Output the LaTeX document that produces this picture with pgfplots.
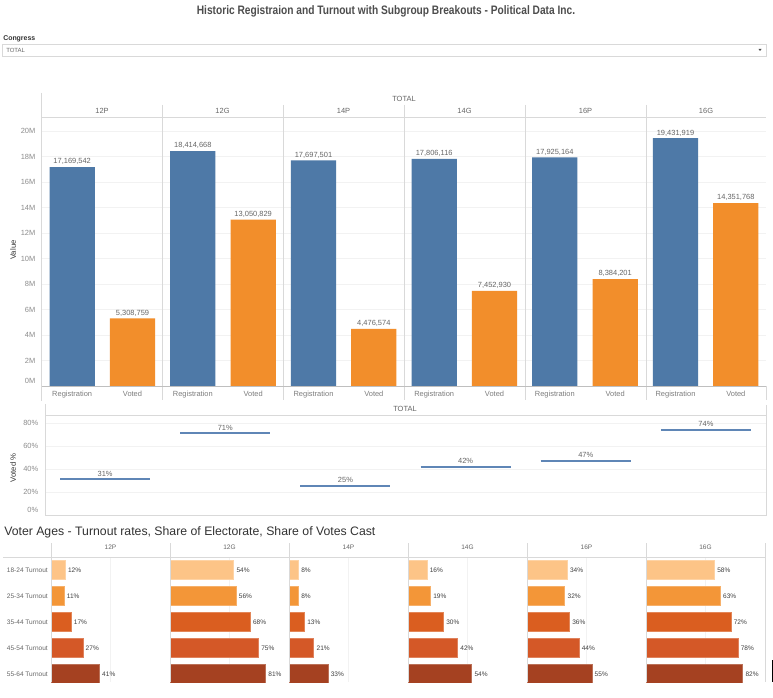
\documentclass[border=0pt]{standalone}
\usepackage{pgfplots}
\pgfplotsset{compat=1.18}
\usepackage{pgfplotstable}
\usepackage{graphicx}
\usepackage{fontspec}
\setmainfont{Liberation Sans}

\definecolor{tblue}{HTML}{4E79A7}
\definecolor{torange}{HTML}{F28E2B}
\definecolor{lineblue}{HTML}{5F86B6}
\definecolor{gridc}{HTML}{F2F2F2}
\definecolor{sepc}{HTML}{D9D9D9}
\definecolor{tickc}{HTML}{8C8C8C}
\definecolor{labc}{HTML}{666666}
\definecolor{titc}{HTML}{4D4D4D}
\definecolor{ageA}{HTML}{FDC487}
\definecolor{ageB}{HTML}{F39638}
\definecolor{ageC}{HTML}{DA5E20}
\definecolor{ageD}{HTML}{D45827}
\definecolor{ageE}{HTML}{A54121}

\newcommand{\tickfont}{\fontsize{5.6}{6.5}\selectfont}
\newcommand{\agefont}{\fontsize{4.9}{5.5}\selectfont}

\pgfplotstableread{
x y label
0.5 17169542 17,169,542
2.5 18414668 18,414,668
4.5 17697501 17,697,501
6.5 17806116 17,806,116
8.5 17925164 17,925,164
10.5 19431919 19,431,919
}\regtable

\pgfplotstableread{
x y label
1.5 5308759 5,308,759
3.5 13050829 13,050,829
5.5 4476574 4,476,574
7.5 7452930 7,452,930
9.5 8384201 8,384,201
11.5 14351768 14,351,768
}\votetable

\pgfplotstableread{
x y label
0.5 30.9 31
1.5 70.9 71
2.5 25.3 25
3.5 41.9 42
4.5 46.8 47
5.5 73.9 74
}\pcttable

\pgfplotstableread{
row pA pB pC pD pE pF
0 12 54 8 16 34 58
1 11 56 8 19 32 63
2 17 68 13 30 36 72
3 27 75 21 42 44 78
4 41 81 33 54 55 82
}\agetable

\pgfplotsset{
 agepanel/.style={scale only axis, width=89.25pt, height=93.75pt, anchor=south west,
  xmin=0, xmax=101, ymin=-0.5, ymax=4.3077, y dir=reverse,
  xbar, bar shift=0pt, bar width=0.73,
  axis line style={draw=none}, major tick length=0pt,
  ytick=\empty, xtick={50}, xticklabels={}, xmajorgrids, grid style={gridc, line width=0.6pt},
  point meta=x,
  nodes near coords={\pgfmathprintnumber[assume math mode=true,fixed,precision=0]{\pgfplotspointmeta}\%},
  every node near coord/.append style={font=\agefont, text=black!75, inner sep=2pt},
 },
 pctseg/.style={color=lineblue, line width=1.5pt, mark=none, forget plot},
}

\newcommand{\agepanel}[2]{%
\begin{axis}[agepanel, at={(#1,11.25pt)}]
\addplot[fill=ageA, draw=ageA!75!white, line width=0.4pt, restrict y to domain=-0.2:0.2] table[x=#2,y=row]{\agetable};
\addplot[fill=ageB, draw=ageB!75!white, line width=0.4pt, restrict y to domain=0.8:1.2] table[x=#2,y=row]{\agetable};
\addplot[fill=ageC, draw=ageC!75!white, line width=0.4pt, restrict y to domain=1.8:2.2] table[x=#2,y=row]{\agetable};
\addplot[fill=ageD, draw=ageD!75!white, line width=0.4pt, restrict y to domain=2.8:3.2] table[x=#2,y=row]{\agetable};
\addplot[fill=ageE, draw=ageE!75!white, line width=0.4pt, restrict y to domain=3.8:4.2] table[x=#2,y=row]{\agetable};
\end{axis}}

\begin{document}
\begin{tikzpicture}[x=0.75pt,y=0.75pt]
\path[use as bounding box] (0,0) rectangle (773,697);
\fill[white] (0,0) rectangle (773,697);

% Title
\node[font=\fontsize{9.2}{11}\selectfont\bfseries, text=titc] at (386,686) {\scalebox{0.83}[1]{Historic Registraion and Turnout with Subgroup Breakouts - Political Data Inc.}};

% Filter
\node[anchor=west, font=\fontsize{5.2}{6}\selectfont\bfseries, text=black!80, inner sep=0] at (3,658) {Congress};
\draw[sepc, fill=white, line width=0.6pt] (2,641) rectangle (766,653);
\node[anchor=west, font=\fontsize{4.5}{5}\selectfont, text=labc, inner sep=0] at (6,647) {TOTAL};
\fill[black!70] (758.5,648) -- (761.5,648) -- (760,646) -- cycle;

% ---------------- Top bar chart ----------------
\begin{axis}[
 scale only axis, width=543pt, height=201.75pt,
 at={(31.5pt,233.25pt)}, anchor=south west,
 xmin=0, xmax=12, ymin=0, ymax=21098039,
 ybar, bar shift=0pt, bar width=0.75,
 axis line style={draw=none},
 major tick length=0pt,
 scaled y ticks=false,
 ytick={2000000,4000000,6000000,8000000,10000000,12000000,14000000,16000000,18000000,20000000},
 yticklabels={2M,4M,6M,8M,10M,12M,14M,16M,18M,20M},
 extra y ticks={0}, extra y tick labels={0M},
 extra y tick style={yticklabel style={yshift=3.75pt}, ymajorgrids=false},
 ymajorgrids, grid style={gridc, line width=0.6pt},
 yticklabel style={font=\tickfont, text=tickc, xshift=-1.5pt},
 xtick={0.5,1.5,...,11.5},
 xticklabels={Registration,Voted,Registration,Voted,Registration,Voted,Registration,Voted,Registration,Voted,Registration,Voted},
 xticklabel style={font=\tickfont, text=labc!85},
 nodes near coords, point meta=explicit symbolic,
 every node near coord/.append style={font=\tickfont, text=labc, inner sep=1.5pt},
 clip=false,
]
\addplot[fill=tblue, draw=none] table[x=x,y=y,meta=label]{\regtable};
\addplot[fill=torange, draw=none] table[x=x,y=y,meta=label]{\votetable};
\end{axis}

\draw[sepc, line width=0.6pt] (41.5,604) -- (41.5,296);
\foreach \xx in {162,283,404,525,646} {\draw[sepc, line width=0.6pt] (\xx,592) -- (\xx,297);}
\draw[sepc, line width=0.6pt] (42,580) -- (766,580);
\draw[black!25, line width=0.6pt] (42,311) -- (766,311);
\draw[sepc, line width=0.6pt] (766,311) -- (766,297);
\node[font=\tickfont, text=labc] at (404,598) {TOTAL};
\foreach \xx/\nm in {102/12P,222.5/12G,343.5/14P,464.5/14G,585.5/16P,706/16G} {\node[font=\tickfont, text=labc] at (\xx,586) {\nm};}
\node[rotate=90, font=\fontsize{5.8}{6.5}\selectfont, text=black!80] at (13,447) {Value};

% ---------------- Voted % chart ----------------
\begin{axis}[
 scale only axis, width=540.75pt, height=75pt,
 at={(33.75pt,136.5pt)}, anchor=south west,
 xmin=0, xmax=6, ymin=0, ymax=86.96,
 axis line style={draw=none},
 major tick length=0pt,
 xtick=\empty,
 ytick={20,40,60,80},
 yticklabels={20\%,40\%,60\%,80\%},
 extra y ticks={0}, extra y tick labels={0\%},
 extra y tick style={yticklabel style={yshift=4pt}, ymajorgrids=false},
 ymajorgrids, grid style={gridc, line width=0.6pt},
 yticklabel style={font=\tickfont, text=tickc, xshift=-1.5pt},
 clip=false,
]
\addplot[pctseg] coordinates {(0.125,30.9) (0.875,30.9)};
\addplot[pctseg] coordinates {(1.125,70.9) (1.875,70.9)};
\addplot[pctseg] coordinates {(2.125,25.3) (2.875,25.3)};
\addplot[pctseg] coordinates {(3.125,41.9) (3.875,41.9)};
\addplot[pctseg] coordinates {(4.125,46.8) (4.875,46.8)};
\addplot[pctseg] coordinates {(5.125,73.9) (5.875,73.9)};
\addplot[draw=none, mark=none, point meta=explicit symbolic,
 nodes near coords={\pgfplotspointmeta\%},
 every node near coord/.append style={font=\tickfont, text=labc, inner sep=2.2pt}] table[x=x,y=y,meta=label]{\pcttable};
\end{axis}

\draw[sepc, line width=0.6pt] (45,293) -- (45,182) -- (766,182) -- (766,292);
\draw[sepc, line width=0.6pt] (45,282) -- (766,282);
\node[font=\tickfont, text=labc] at (405,288) {TOTAL};
\node[rotate=90, font=\fontsize{5.8}{6.5}\selectfont, text=black!80] at (13,229) {Voted \%};

% ---------------- Age panels ----------------
\node[anchor=west, font=\fontsize{9.2}{11}\selectfont, text=black!80, inner sep=0] at (4,165) {Voter Ages - Turnout rates, Share of Electorate, Share of Votes Cast};

\agepanel{38.25pt}{pA}
\agepanel{127.5pt}{pB}
\agepanel{216.75pt}{pC}
\agepanel{306pt}{pD}
\agepanel{395.25pt}{pE}
\agepanel{484.5pt}{pF}

\draw[sepc, line width=0.6pt] (3,140) -- (765,140);
\foreach \xx in {51,170,289,408,527,646,765} {\draw[sepc, line width=0.6pt] (\xx,154) -- (\xx,15);}
\foreach \xx/\nm in {110.5/12P,229.5/12G,348.5/14P,467.5/14G,586.5/16P,705.5/16G} {\node[font=\agefont, text=labc] at (\xx,150) {\nm};}
\foreach \yy/\nm in {127/18-24 Turnout,101/25-34 Turnout,75/35-44 Turnout,49/45-54 Turnout,23/55-64 Turnout} {\node[anchor=east, font=\agefont, text=labc, inner sep=0] at (48,\yy) {\nm};}

\draw[black, line width=1pt] (772.3,37) -- (772.3,15);
\end{tikzpicture}
\end{document}
